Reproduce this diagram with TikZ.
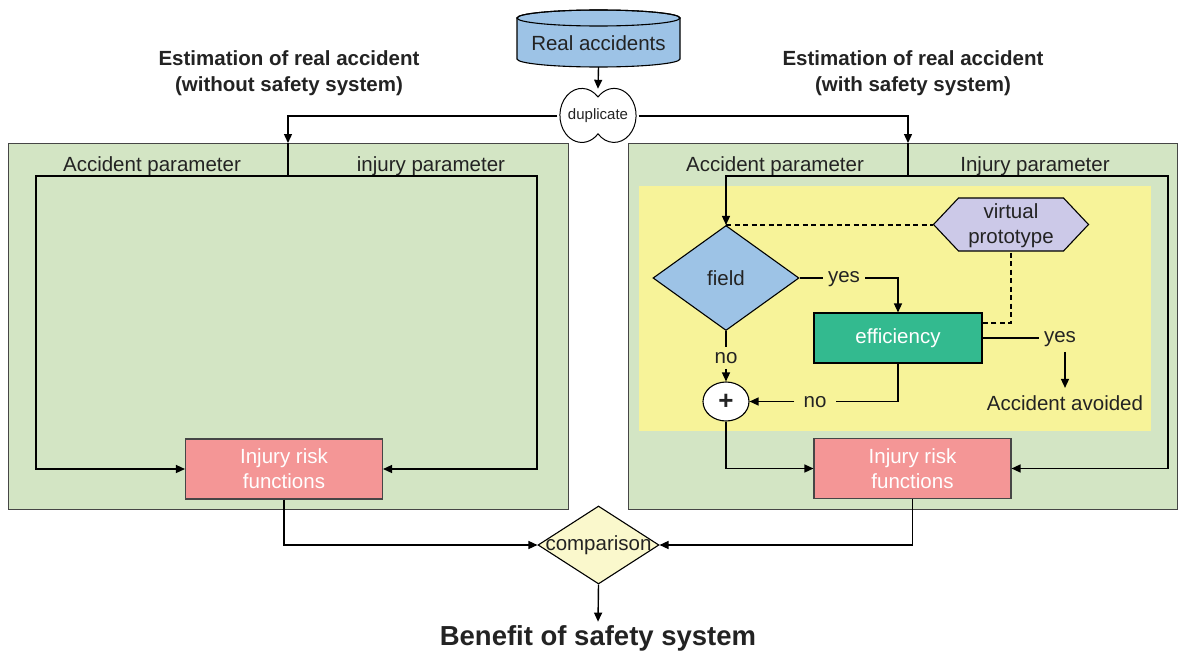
\documentclass[tikz,border=0pt]{standalone}
\usepackage{fontspec}
\setmainfont{Liberation Sans}
\usetikzlibrary{shapes.geometric,arrows.meta}
\definecolor{panelgreen}{RGB}{211,229,196}
\definecolor{areayellow}{RGB}{247,243,153}
\definecolor{fieldblue}{RGB}{157,195,230}
\definecolor{protolilac}{RGB}{204,201,232}
\definecolor{effgreen}{RGB}{51,186,143}
\definecolor{riskpink}{RGB}{244,150,150}
\definecolor{compareyellow}{RGB}{250,248,204}
\definecolor{textgray}{RGB}{35,35,35}
\definecolor{edgegray}{RGB}{70,70,70}

\begin{document}
\begin{tikzpicture}[line join=miter,
                every node/.style={text=textgray, font=\fontsize{20.5}{25}\selectfont},
                flowline/.style={line width=1.4pt},
                flowarrow/.style={line width=1.4pt, -{Triangle[length=9pt,width=8pt]}},
                protoline/.style={line width=1.1pt, dash pattern=on 5pt off 3.5pt},
                panelbox/.style={fill=panelgreen, draw=edgegray, line width=0.9pt},
                headtext/.style={font=\fontsize{20.5}{26}\selectfont\bfseries, align=center},
                riskbox/.style={rectangle, fill=riskpink, draw=edgegray, line width=1.1pt, text=white, align=center, minimum width=197pt, minimum height=60pt},
                fielddiamond/.style={diamond, fill=fieldblue, draw=black, line width=1.1pt, minimum width=146pt, minimum height=105pt, inner sep=0pt},
                effbox/.style={rectangle, fill=effgreen, draw=black, line width=1.1pt, text=white, minimum width=168pt, minimum height=50pt},
                plusnode/.style={ellipse, fill=white, draw=black, line width=1.1pt, minimum width=46pt, minimum height=39pt, inner sep=0pt, font=\fontsize{26}{26}\selectfont\bfseries},
                flowlabel/.style={inner sep=5pt},
                comparediamond/.style={diamond, fill=compareyellow, draw=black, line width=1.1pt, minimum width=121pt, minimum height=78pt, inner sep=0pt}]
            % Frame
            \useasboundingbox (0pt, 0pt) rectangle (1184pt, -653pt);

            % Titles
            \node[headtext] (titleleft) at (289pt, -73pt) {Estimation of real accident\\(without safety system)};
            \node[headtext] (titleright) at (913pt, -73pt) {Estimation of real accident\\(with safety system)};

            % Source data
            \filldraw[fill=fieldblue, draw=black, line width=1.1pt] (517pt, -18pt) -- (517pt, -59pt) arc[start angle=180, end angle=360, x radius=81.5pt, y radius=8pt] -- (680pt, -18pt) arc[start angle=0, end angle=180, x radius=81.5pt, y radius=8pt] -- cycle;
            \draw[line width=1.1pt] (598.5pt, -18pt) ellipse[x radius=81.5pt, y radius=8pt];
            \node[minimum height=48pt] (real) at (598.5pt, -43pt) {Real accidents};

            \filldraw[fill=white, draw=black, line width=1pt] (598pt, -97pt) arc[start angle=43, end angle=317, x radius=22pt, y radius=27pt] arc[start angle=223, end angle=497, x radius=22pt, y radius=27pt] -- cycle;
            \node[minimum width=81pt, minimum height=54pt, inner sep=0pt, font=\fontsize{15}{18}\selectfont] (dup) at (598pt, -116pt) {duplicate};
            \draw[flowarrow] (real.south) -- (dup.north);

            % Panels
            \draw[panelbox] (8pt, -143pt) rectangle (568pt, -509pt);
            \draw[panelbox] (628pt, -143pt) rectangle (1177pt, -509pt);
            \fill[areayellow] (639pt, -186pt) rectangle (1151pt, -431pt);

            \node (accleft) at (152pt, -166pt) {Accident parameter};
            \node (injleft) at (431pt, -166pt) {injury parameter};
            \node (accright) at (775pt, -166pt) {Accident parameter};
            \node (injright) at (1035pt, -166pt) {Injury parameter};

            \coordinate (leftin) at (288pt, -143pt);
            \coordinate (leftsplit) at (288pt, -176pt);
            \coordinate (leftl) at (36pt, -176pt);
            \coordinate (leftr) at (537pt, -176pt);
            \coordinate (rightin) at (908pt, -143pt);
            \coordinate (rightsplit) at (908pt, -176pt);
            \coordinate (rightr) at (1168pt, -176pt);

            % Blocks
            \node[riskbox] (riskleft) at (284pt, -469pt) {Injury risk\\functions};
            \node[riskbox] (riskright) at (912.5pt, -468.5pt) {Injury risk\\functions};
            \node[fielddiamond] (field) at (726pt, -278pt) {field};
            \filldraw[fill=protolilac, draw=black, line width=1.1pt] (933.5pt, -224.5pt) -- (958.5pt, -198pt) -- (1063.5pt, -198pt) -- (1088.5pt, -224.5pt) -- (1063.5pt, -251pt) -- (958.5pt, -251pt) -- cycle;
            \node[minimum width=155pt, minimum height=53pt, inner sep=0pt, align=center] (proto) at (1011pt, -226pt) {virtual\\prototype};
            \node[effbox] (eff) at (898pt, -338pt) {efficiency};
            \coordinate (protoin) at (982pt, -323pt);
            \node[plusnode] (plus) at (726pt, -401.5pt) {+};
            \node[flowlabel] (yesfield) at (844pt, -279pt) {yes};
            \node[flowlabel] (nofield) at (726pt, -358pt) {no};
            \node[flowlabel, inner xsep=9pt] (noeff) at (815pt, -402pt) {no};
            \node[flowlabel] (yeseff) at (1060pt, -339pt) {yes};
            \node (avoided) at (1065pt, -403pt) {Accident avoided};
            \node[comparediamond, label=center:comparison] (compare) at (598.5pt, -545pt) {};
            \node[font=\fontsize{27.5}{30}\selectfont\bfseries] (benefit) at (598pt, -638pt) {Benefit of safety system};

            % Connectors, left panel
            \draw[flowarrow] (dup.west) -| (leftin);
            \draw[flowline] (leftin) -- (leftsplit);
            \draw[flowarrow] (leftsplit) -- (leftl) |- (riskleft.west);
            \draw[flowarrow] (leftsplit) -- (leftr) |- (riskleft.east);

            % Connectors, right panel
            \draw[flowarrow] (dup.east) -| (rightin);
            \draw[flowline] (rightin) -- (rightsplit);
            \draw[flowarrow] (rightsplit) -| (field.north);
            \draw[flowarrow] (rightsplit) -- (rightr) |- (riskright.east);
            \draw[flowline] (field.east) -- (field.east -| yesfield.west);
            \draw[flowarrow] (yesfield.east |- field.east) -| (eff.north);
            \draw[flowline] (field.south) -- (nofield.north);
            \draw[flowarrow] (nofield.south) -- (plus.north);
            \draw[flowline] (eff.south) |- (plus.east -| noeff.east);
            \draw[flowarrow] (plus.east -| noeff.west) -- (plus.east);
            \draw[flowline] (eff.east) -- (eff.east -| yeseff.west);
            \draw[flowarrow] (avoided.north |- yeseff.south) -- ([yshift=4pt]avoided.north);
            \draw[flowarrow] (plus.south) |- (riskright.west);
            \draw[protoline] (field.north) -- (field.north -| proto.west);
            \draw[protoline] (proto.south) |- (protoin);

            % Comparison
            \draw[flowarrow] (riskleft.south) |- (compare.west);
            \draw[flowarrow] (riskright.south) |- (compare.east);
            \draw[flowarrow] (compare.south) -- (benefit.north);
\end{tikzpicture}
\end{document}
